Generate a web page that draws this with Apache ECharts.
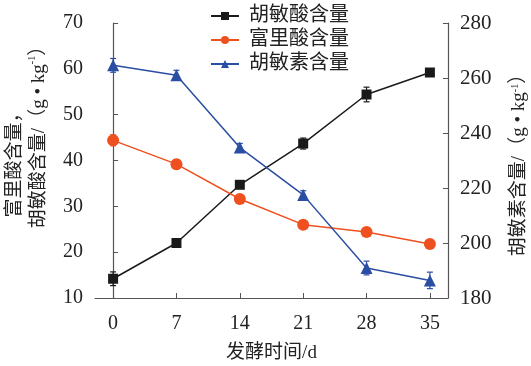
<!DOCTYPE html>
<html><head><meta charset="utf-8">
<script src="https://cdn.jsdelivr.net/npm/echarts@6/dist/echarts.min.js"></script>
<style>html,body{margin:0;padding:0;background:#fff}#c{width:531px;height:366px}</style>
</head><body><div id="c"></div>
<script>
const days = [0, 7, 14, 21, 28, 35];
const humicAcid = [14.2, 22.0, 34.7, 43.7, 54.4, 59.2];
const humicAcidErr = [1.5, 0.5, 0.6, 1.2, 1.6, 0.7];
const fulvicAcid = [44.4, 39.2, 31.6, 26.0, 24.4, 21.8];
const fulvicAcidErr = [1.2, 1.0, 0.5, 0.5, 0.5, 0.4];
const humin = [264.6, 261.0, 234.7, 217.5, 190.9, 186.4];
const huminErr = [2.5, 1.8, 1.5, 1.5, 2.5, 3.0];
const leftTicks = [10, 20, 30, 40, 50, 60, 70];
const rightTicks = [180, 200, 220, 240, 260, 280];
const names = ['胡敏酸含量', '富里酸含量', '胡敏素含量'];
const colors = ['#1a1a1a', '#ee5020', '#2a4ea3'];

const FONT = "'Liberation Serif', 'Noto Sans CJK SC', serif";
const pairs = (ys) => days.map((d, i) => [d, ys[i]]);
const errData = (ys, es) => days.map((d, i) => [d, ys[i] - es[i], ys[i] + es[i]]);
function errSeries(ys, es, color, yIdx) {
  return {
    type: 'custom', yAxisIndex: yIdx, silent: true, z: 1,
    data: errData(ys, es),
    renderItem: function (params, api) {
      const lo = api.coord([api.value(0), api.value(1)]);
      const hi = api.coord([api.value(0), api.value(2)]);
      const w = 3;
      const st = { stroke: color, lineWidth: 1.2 };
      return { type: 'group', children: [
        { type: 'line', shape: { x1: lo[0], y1: lo[1], x2: hi[0], y2: hi[1] }, style: st },
        { type: 'line', shape: { x1: lo[0] - w, y1: lo[1], x2: lo[0] + w, y2: lo[1] }, style: st },
        { type: 'line', shape: { x1: hi[0] - w, y1: hi[1], x2: hi[0] + w, y2: hi[1] }, style: st }
      ]};
    }
  };
}
const rich = {
  sup: { fontSize: 10, verticalAlign: 'top', fontFamily: FONT, color: '#222', padding: [0, 0, 8, 0] },
  pad: { width: 56 }
};
const axisLine = { show: true, lineStyle: { color: '#555', width: 1.2 } };
const chart = echarts.init(document.getElementById('c'), null, { renderer: 'canvas' });
chart.setOption({
  animation: false,
  textStyle: { fontFamily: FONT },
  grid: { left: 95, right: 83, top: 23, bottom: 68, containLabel: false, outerBoundsMode: 'none' },
  legend: {
    orient: 'vertical', left: 205, top: 1, itemGap: 4, itemWidth: 28, itemHeight: 10,
    textStyle: { fontFamily: FONT, fontSize: 20, color: '#222', padding: [0, 0, 0, 5] },
    data: names
  },
  xAxis: {
    type: 'value', min: -2, max: 37,
    name: '发酵时间/d', nameLocation: 'middle', nameGap: 46,
    nameTextStyle: { fontFamily: FONT, fontSize: 19, color: '#222' },
    axisLine: axisLine,
    axisTick: { inside: true, length: 5, customValues: days, lineStyle: { color: '#555' } },
    axisLabel: { customValues: days, fontSize: 20, color: '#222', margin: 16, fontFamily: FONT },
    splitLine: { show: false }
  },
  yAxis: [{
    type: 'value', min: 10, max: 70, interval: 10, position: 'left',
    name: '富里酸含量，\n{pad|}胡敏酸含量/（g • kg{sup|-1}）', nameLocation: 'middle', nameGap: 44,
    nameTextStyle: { fontFamily: FONT, fontSize: 19, color: '#222', lineHeight: 24, rich: rich },
    axisLine: axisLine,
    axisTick: { inside: true, length: 5, lineStyle: { color: '#555' } },
    axisLabel: { fontSize: 20, color: '#222', margin: 12, fontFamily: FONT },
    splitLine: { show: false }
  }, {
    type: 'value', min: 180, max: 280, interval: 20, position: 'right',
    name: '胡敏素含量/（g • kg{sup|-1}）', nameLocation: 'middle', nameGap: 62,
    nameRotate: 90,
    nameTextStyle: { fontFamily: FONT, fontSize: 19, color: '#222', rich: rich },
    axisLine: axisLine,
    axisTick: { inside: true, length: 5, lineStyle: { color: '#555' } },
    axisLabel: { fontSize: 21, color: '#222', margin: 12, fontFamily: FONT },
    splitLine: { show: false }
  }],
  series: [
    errSeries(humicAcid, humicAcidErr, colors[0], 0),
    errSeries(fulvicAcid, fulvicAcidErr, colors[1], 0),
    errSeries(humin, huminErr, colors[2], 1),
    { name: names[0], type: 'line', yAxisIndex: 0, data: pairs(humicAcid), symbol: 'rect', symbolSize: 10,
      itemStyle: { color: colors[0] }, lineStyle: { color: colors[0], width: 1.5 }, z: 3 },
    { name: names[1], type: 'line', yAxisIndex: 0, data: pairs(fulvicAcid), symbol: 'circle', symbolSize: 12,
      itemStyle: { color: colors[1] }, lineStyle: { color: colors[1], width: 1.5 }, z: 3 },
    { name: names[2], type: 'line', yAxisIndex: 1, data: pairs(humin), symbol: 'triangle', symbolSize: 12,
      itemStyle: { color: colors[2] }, lineStyle: { color: colors[2], width: 1.5 }, z: 3 }
  ]
});
</script></body></html>
